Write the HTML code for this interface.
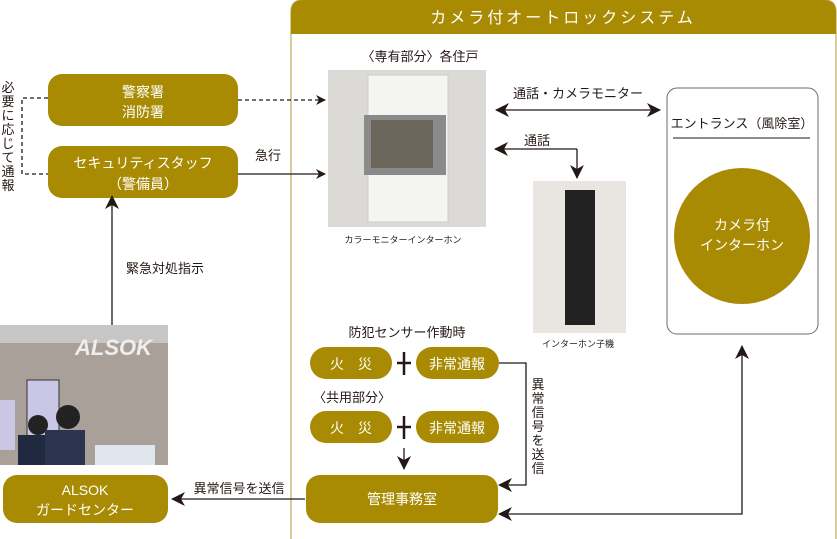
<!DOCTYPE html>
<html><head><meta charset="utf-8"><style>
body{margin:0;width:837px;height:539px;background:#fff;overflow:hidden}
svg{display:block;font-family:"Liberation Sans","Noto Sans CJK JP",sans-serif}
</style></head><body>
<svg width="837" height="539" viewBox="0 0 837 539">
<defs>
<marker id="ah" viewBox="0 0 10 10" refX="9" refY="5" markerWidth="10" markerHeight="10" markerUnits="userSpaceOnUse" orient="auto-start-reverse"><path d="M0,0 L10,5 L0,10 L3,5z" fill="#231815"/></marker>
<marker id="ab" viewBox="0 0 14 14" refX="13" refY="7" markerWidth="14" markerHeight="14" markerUnits="userSpaceOnUse" orient="auto-start-reverse"><path d="M0,0 L14,7 L0,14 L4,7z" fill="#231815"/></marker>
</defs>
<path d="M291,539 V12 Q291,0 303,0 H824 Q836,0 836,12 V539" fill="#fff" stroke="#cdbb78" stroke-width="1.5"/>
<path d="M291,34 V12 Q291,0 303,0 H824 Q836,0 836,12 V34z" fill="#a88b03"/>
<text x="563" y="23" fill="#fff" font-size="16" text-anchor="middle" letter-spacing="3">カメラ付オートロックシステム</text>

<g fill="#a88b03">
<rect x="48" y="74" width="190" height="52" rx="14"/>
<rect x="48" y="146" width="190" height="52" rx="14"/>
<rect x="3" y="475" width="165" height="48" rx="14"/>
<rect x="306" y="475" width="192" height="48" rx="14"/>
<rect x="310" y="347" width="82" height="32" rx="16"/>
<rect x="416" y="347" width="83" height="32" rx="16"/>
<rect x="310" y="411" width="82" height="32" rx="16"/>
<rect x="416" y="411" width="83" height="32" rx="16"/>
<circle cx="742" cy="236" r="68"/>
</g>
<g fill="#fff" font-size="14" text-anchor="middle">
<text x="143" y="97">警察署</text><text x="143" y="117">消防署</text>
<text x="143" y="168">セキュリティスタッフ</text><text x="143" y="189">（警備員）</text>
<text x="85" y="495">ALSOK</text><text x="85" y="515">ガードセンター</text>
<text x="402" y="504">管理事務室</text>
<text x="351" y="369">火　災</text><text x="457" y="369">非常通報</text>
<text x="351" y="433">火　災</text><text x="457" y="433">非常通報</text>
<text x="742" y="230">カメラ付</text><text x="742" y="250">インターホン</text>
</g>
<g font-size="13" fill="#231815">
<text x="268" y="160" text-anchor="middle">急行</text>
<text x="126" y="273">緊急対処指示</text>
<text x="420" y="61" text-anchor="middle">〈専有部分〉各住戸</text>
<text x="578" y="98" text-anchor="middle">通話・カメラモニター</text>
<text x="537" y="145" text-anchor="middle">通話</text>
<text x="742" y="128" text-anchor="middle">エントランス（風除室）</text>
<text x="407" y="337" text-anchor="middle">防犯センサー作動時</text>
<text x="352" y="402" text-anchor="middle">〈共用部分〉</text>
<text x="239" y="493" text-anchor="middle">異常信号を送信</text>
</g>
<g font-size="13" fill="#231815" text-anchor="middle">
<text x="8" y="92">必</text><text x="8" y="106">要</text><text x="8" y="120">に</text><text x="8" y="134">応</text><text x="8" y="148">じ</text><text x="8" y="162">て</text><text x="8" y="176">通</text><text x="8" y="190">報</text>
<text x="538" y="389">異</text><text x="538" y="403">常</text><text x="538" y="417">信</text><text x="538" y="431">号</text><text x="538" y="445">を</text><text x="538" y="459">送</text><text x="538" y="473">信</text>
</g>
<g font-size="9" fill="#231815" text-anchor="middle">
<text x="403" y="243">カラーモニターインターホン</text>
<text x="578" y="347">インターホン子機</text>
</g>
<rect x="667" y="88" width="151" height="246" rx="10" fill="none" stroke="#6f6a6a" stroke-width="1"/>
<line x1="673" y1="138" x2="810" y2="138" stroke="#231815" stroke-width="1"/>
<!-- photos -->
<rect x="328" y="70" width="158" height="157" fill="#dcdad6"/>
<rect x="368" y="75" width="80" height="147" fill="#f4f4f2" stroke="#ccc"/>
<rect x="364" y="115" width="82" height="60" fill="#8a8a8a"/>
<rect x="371" y="120" width="62" height="48" fill="#6b665a"/>
<rect x="533" y="181" width="93" height="152" fill="#e9e6e1"/>
<rect x="565" y="190" width="30" height="135" fill="#222"/>
<rect x="0" y="325" width="168" height="140" fill="#a8a099"/>
<rect x="0" y="325" width="168" height="18" fill="#c8c6c4"/>
<rect x="0" y="400" width="15" height="50" fill="#c9c6e6"/>
<rect x="27" y="380" width="32" height="60" fill="#c9c6e6" stroke="#333"/>
<circle cx="38" cy="425" r="10" fill="#222"/>
<rect x="18" y="435" width="30" height="30" fill="#1f2a40"/>
<circle cx="68" cy="417" r="12" fill="#222"/>
<rect x="45" y="430" width="40" height="35" fill="#2b3550"/>
<rect x="95" y="445" width="60" height="20" fill="#dfe6ee"/>
<text x="75" y="355" font-size="22" fill="#eee" font-weight="bold" font-style="italic">ALSOK</text>
<g stroke="#231815" stroke-width="1.3" fill="none">
<path d="M48,98 H22 V174 H48" stroke-dasharray="4,3"/>
<line x1="238" y1="100" x2="325" y2="100" stroke-dasharray="4,3" marker-end="url(#ah)"/>
<line x1="238" y1="174" x2="325" y2="174" marker-end="url(#ah)"/>
<line x1="112" y1="325" x2="112" y2="196" marker-end="url(#ab)"/>
<line x1="305" y1="499" x2="172" y2="499" marker-end="url(#ab)"/>
<line x1="496" y1="110" x2="660" y2="110" marker-start="url(#ab)" marker-end="url(#ab)"/>
<path d="M577,149 H495" marker-end="url(#ab)"/>
<path d="M577,149 V178" marker-end="url(#ab)"/>
<path d="M499,363 H526 V485 H499" marker-end="url(#ab)"/>
<path d="M742,346 V514 H499" marker-start="url(#ab)" marker-end="url(#ab)"/>
<line x1="404" y1="448" x2="404" y2="469" marker-end="url(#ab)"/>
</g>
<g stroke="#231815" stroke-width="2.5">
<path d="M404,352 V375 M397,363 H411"/>
<path d="M404,416 V439 M397,427 H411"/>
</g>
</svg>
</body></html>
